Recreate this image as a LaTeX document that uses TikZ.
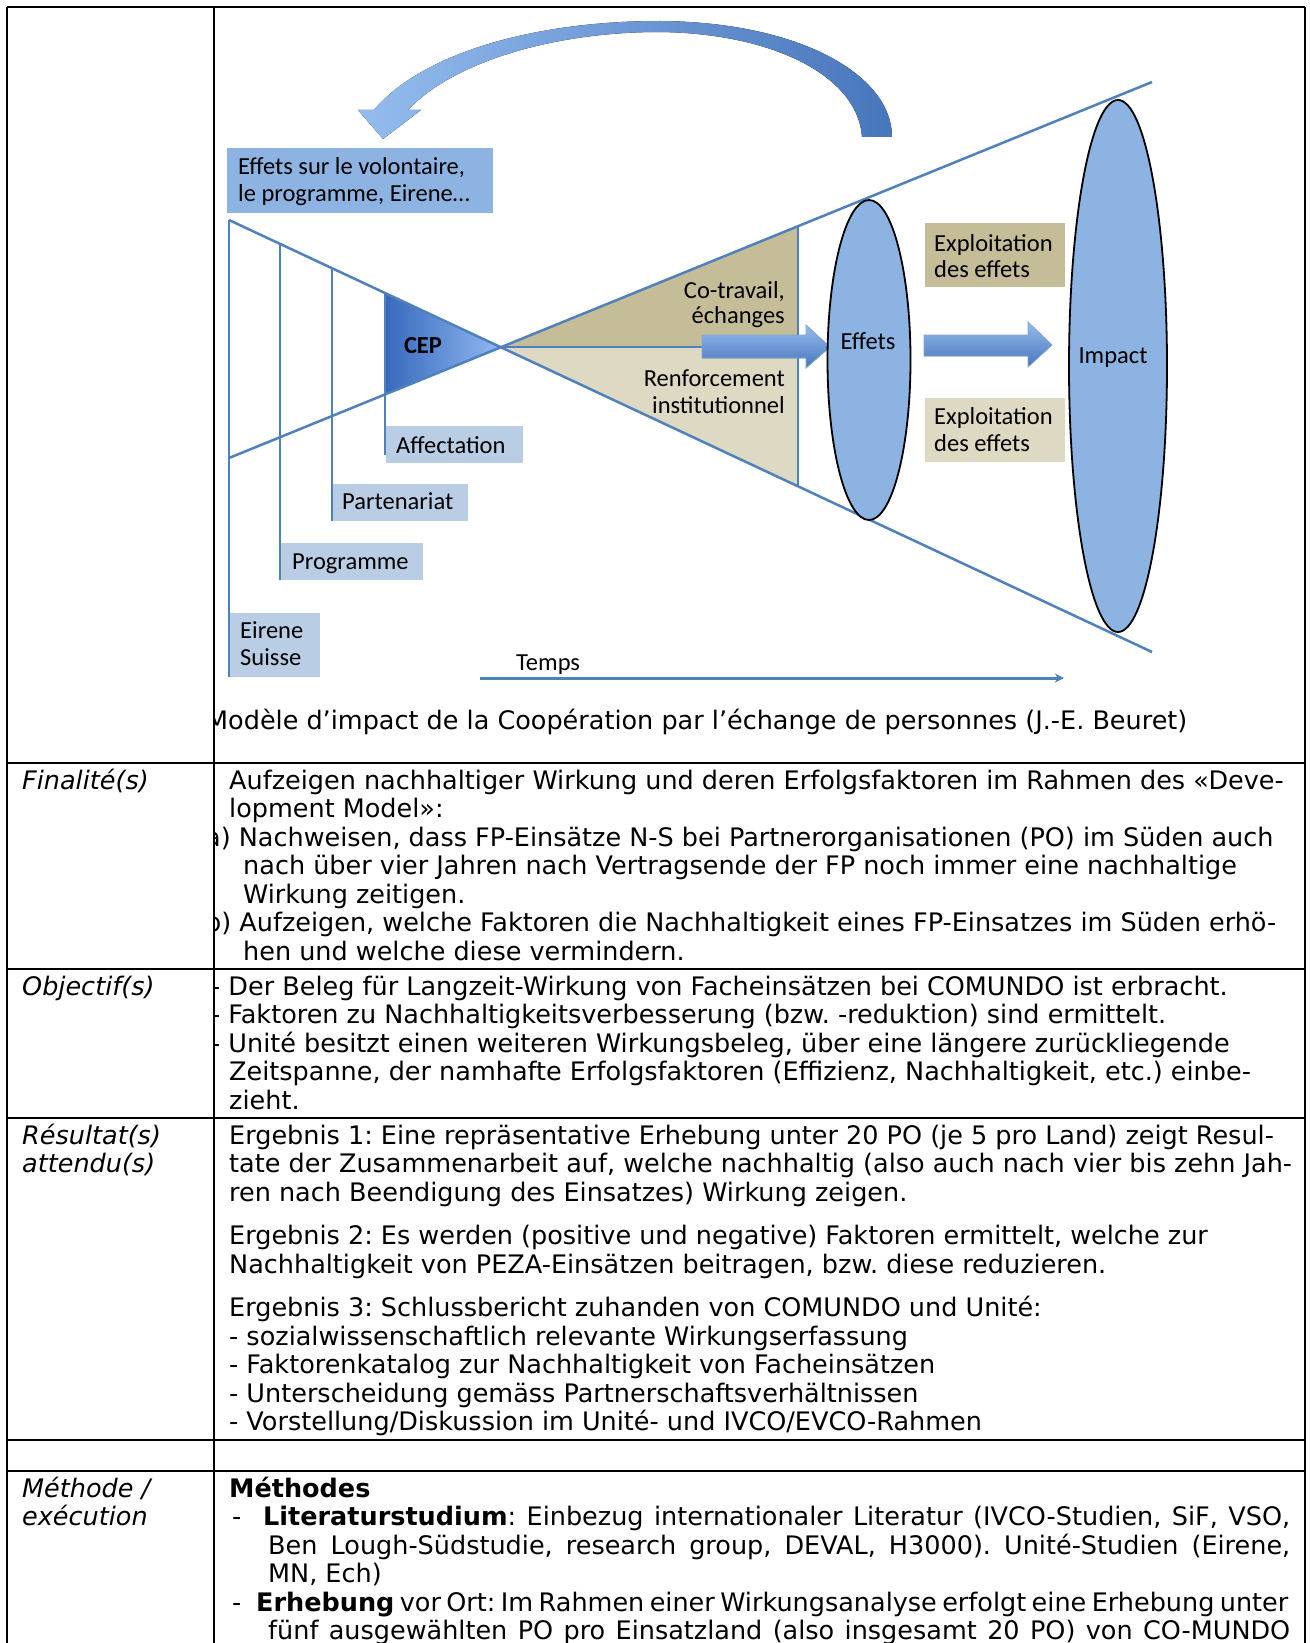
\documentclass[tikz,border=0pt]{standalone}
\usepackage{fontspec}
\setmainfont{DejaVu Sans}[ItalicFont={DejaVu Sans Oblique},BoldFont={DejaVu Sans Bold}]
\newfontfamily\calib{Carlito}
\usepackage{tikz}
\usetikzlibrary{arrows, positioning, shapes.geometric}
\tikzset{>=stealth}
\frenchspacing

\definecolor{lineblue}{RGB}{79,129,189}
\definecolor{fillblue}{RGB}{141,179,226}
\definecolor{paleblue}{RGB}{185,205,229}
\definecolor{tandark}{RGB}{196,189,151}
\definecolor{tanlight}{RGB}{221,217,195}
\definecolor{arrowdark}{RGB}{72,118,188}
\definecolor{arrowlight}{RGB}{148,188,238}
\definecolor{cepdark}{RGB}{55,105,188}
\definecolor{ceplight}{RGB}{145,185,242}

\tikzset{
  bodytxt/.style={anchor=base west, inner sep=0pt, font=\fontsize{25.5}{28.5}\selectfont},
  rowlbl/.style={anchor=base west, inner sep=0pt, font=\fontsize{25.5}{28.5}\selectfont\itshape},
  dtxt/.style={anchor=base west, inner sep=0pt, font=\calib\fontsize{24.5}{27}\selectfont},
  tagbox/.style={fill=paleblue, anchor=north west, inner sep=0pt},
  funnel/.style={draw=lineblue, line width=2.5pt},
  grid/.style={draw=black, line width=2pt},
  blockarrow/.style={top color=arrowlight, bottom color=arrowdark, draw=lineblue!70, line width=0.8pt},
}

\begin{document}
\begin{tikzpicture}[x=1pt, y=-1pt]
\useasboundingbox (0,0) rectangle (1309,1643);
\fill[white] (0,0) rectangle (1309,1643);

% arrow going back to the start
\fill[left color=arrowlight, right color=arrowdark] (892,137) .. controls (892,75) and (800,22) .. (660,21)
  .. controls (530,21) and (420,55) .. (374,110) -- (358,110) -- (383,139) -- (421,110) -- (408,110)
  .. controls (450,65) and (545,33) .. (655,32) .. controls (770,32) and (858,75) .. (862,137) -- cycle;

\node[fill=fillblue, anchor=north west, inner sep=0pt, minimum width=266pt, minimum height=65pt] (fxbox) at (227,148) {};
\node[dtxt] (fx1) at (238,174) {Effets sur le volontaire,};
\node[dtxt] (fx2) at (238,201) {le programme, Eirene…};

% funnel
\coordinate (cross) at (501,347);
\coordinate (tl) at (229,220);
\coordinate (bl) at (229,458);
\coordinate (tr) at (1152,82);
\coordinate (br) at (1152,652);
\coordinate (vt) at (798,226);
\coordinate (vm) at (798,347);
\coordinate (vb) at (798,486);

\fill[tandark] (cross) -- (vt) -- (vm) -- cycle;
\fill[tanlight] (cross) -- (vm) -- (vb) -- cycle;
\shade[left color=cepdark, right color=ceplight] (385,293) -- (cross) -- (385,394) -- cycle;

\node[tagbox, minimum width=137pt, minimum height=37pt] (affbox) at (386,426) {};
\node[tagbox, minimum width=137pt, minimum height=37pt] (partbox) at (331,484) {};
\node[tagbox, minimum width=142pt, minimum height=37pt] (progbox) at (281,543) {};
\node[tagbox, minimum width=91pt, minimum height=64pt] (eirbox) at (229,613) {};

\draw[funnel] (tl) -- (br);
\draw[funnel] (bl) -- (tr);
\draw[funnel] (cross) -- (vm);
\draw[funnel] (vt) -- (vb);
\draw[funnel] (385,293) -- (385,455);
\draw[funnel] (332,268) -- (332,521);
\draw[funnel] (280,244) -- (280,580);
\draw[funnel] (tl) -- (229,677);

\node[dtxt, font=\calib\bfseries\fontsize{24.5}{27}\selectfont, anchor=base] (cep) at (423,353) {CEP};
\node[dtxt, anchor=base east] (cot1) at (785,298) {Co-travail,};
\node[dtxt, anchor=base east] (cot2) at (785,323) {échanges};
\node[dtxt, anchor=base east] (ren1) at (785,386) {Renforcement};
\node[dtxt, anchor=base east] (ren2) at (785,413) {institutionnel};
\node[dtxt] (aff) at (396,453) {Affectation};
\node[dtxt] (part) at (342,509) {Partenariat};
\node[dtxt] (prog) at (292,569) {Programme};
\node[dtxt] (eir1) at (240,638) {Eirene};
\node[dtxt] (eir2) at (240,665) {Suisse};

% effets and impact
\fill[blockarrow] (702,335) -- (806,335) -- (806,325) -- (830,347) -- (806,368) -- (806,358) -- (702,358) -- cycle;
\node[ellipse, draw=black, line width=1.8pt, fill=fillblue, inner sep=0pt, minimum width=83pt, minimum height=320pt] (effets) at (869,360) {};
\node[dtxt, anchor=base] (efftxt) at (868,349) {Effets};
\fill[blockarrow] (924,335) -- (1028,335) -- (1028,322) -- (1052,345) -- (1028,367) -- (1028,356) -- (924,356) -- cycle;
\node[ellipse, draw=black, line width=1.8pt, fill=fillblue, inner sep=0pt, minimum width=98pt, minimum height=532pt] (impact) at (1118,366) {};
\node[dtxt, anchor=base] (imptxt) at (1113,363) {Impact};

\node[fill=tandark, anchor=north west, inner sep=0pt, minimum width=140pt, minimum height=64pt] (explbox1) at (925,223) {};
\node[dtxt] (expl1a) at (934,251) {Exploitation};
\node[dtxt] (expl1b) at (934,277) {des effets};
\node[fill=tanlight, anchor=north west, inner sep=0pt, minimum width=140pt, minimum height=64pt] (explbox2) at (925,398) {};
\node[dtxt] (expl2a) at (934,424) {Exploitation};
\node[dtxt] (expl2b) at (934,451) {des effets};

% time axis
\coordinate (t0) at (480,678);
\coordinate (t1) at (1064,678);
\draw[->, draw=lineblue, line width=3pt] (t0) -- (t1);
\node[dtxt] (temps) at (516,670) {Temps};

% table text, right column
\begin{scope}
\clip (215,0) rectangle (1309,1643);
\node[bodytxt] (cap) at (206,729) {Modèle d’impact de la Coopération par l’échange de personnes (J.-E. Beuret)};

\node[bodytxt] (f1) at (229,789) {Aufzeigen nachhaltiger Wirkung und deren Erfolgsfaktoren im Rahmen des «Deve-};
\node[bodytxt] (f2) at (229,817.5) {lopment Model»:};
\node[bodytxt] (f3) at (205,846) {a) Nachweisen, dass FP-Einsätze N-S bei Partnerorganisationen (PO) im Süden auch};
\node[bodytxt] (f4) at (243,874.5) {nach über vier Jahren nach Vertragsende der FP noch immer eine nachhaltige};
\node[bodytxt] (f5) at (243,903) {Wirkung zeitigen.};
\node[bodytxt] (f6) at (205,931.5) {b) Aufzeigen, welche Faktoren die Nachhaltigkeit eines FP-Einsatzes im Süden erhö-};
\node[bodytxt] (f7) at (243,960) {hen und welche diese vermindern.};

\node[bodytxt] (o1) at (211,995) {- Der Beleg für Langzeit-Wirkung von Facheinsätzen bei COMUNDO ist erbracht.};
\node[bodytxt] (o2) at (211,1023.5) {- Faktoren zu Nachhaltigkeitsverbesserung (bzw. -reduktion) sind ermittelt.};
\node[bodytxt] (o3) at (211,1052) {- Unité besitzt einen weiteren Wirkungsbeleg, über eine längere zurückliegende};
\node[bodytxt] (o4) at (229,1080.5) {Zeitspanne, der namhafte Erfolgsfaktoren (Effizienz, Nachhaltigkeit, etc.) einbe-};
\node[bodytxt] (o5) at (229,1109) {zieht.};

\node[bodytxt] (r1) at (229,1144) {Ergebnis 1: Eine repräsentative Erhebung unter 20 PO (je 5 pro Land) zeigt Resul-};
\node[bodytxt] (r2) at (229,1172.5) {tate der Zusammenarbeit auf, welche nachhaltig (also auch nach vier bis zehn Jah-};
\node[bodytxt] (r3) at (229,1201) {ren nach Beendigung des Einsatzes) Wirkung zeigen.};
\node[bodytxt] (r4) at (229,1244.5) {Ergebnis 2: Es werden (positive und negative) Faktoren ermittelt, welche zur};
\node[bodytxt] (r5) at (229,1273) {Nachhaltigkeit von PEZA-Einsätzen beitragen, bzw. diese reduzieren.};
\node[bodytxt] (r6) at (229,1316.5) {Ergebnis 3: Schlussbericht zuhanden von COMUNDO und Unité:};
\node[bodytxt] (r7) at (229,1345) {- sozialwissenschaftlich relevante Wirkungserfassung};
\node[bodytxt] (r8) at (229,1373.5) {- Faktorenkatalog zur Nachhaltigkeit von Facheinsätzen};
\node[bodytxt] (r9) at (229,1402) {- Unterscheidung gemäss Partnerschaftsverhältnissen};
\node[bodytxt] (r10) at (229,1430.5) {- Vorstellung/Diskussion im Unité- und IVCO/EVCO-Rahmen};

\node[bodytxt, font=\fontsize{25.5}{28.5}\selectfont\bfseries] (m1) at (229,1497) {Méthodes};
\node[bodytxt] (m2d) at (232,1525.5) {-};
\node[bodytxt] (m2) at (263,1525.5) {\makebox[1027pt][s]{\textbf{Literaturstudium}: Einbezug internationaler Literatur (IVCO-Studien, SiF, VSO,}};
\node[bodytxt] (m3) at (268,1554) {\makebox[1022pt][s]{Ben Lough-Südstudie, research group, DEVAL, H3000). Unité-Studien (Eirene,}};
\node[bodytxt] (m4) at (268,1582.5) {MN, Ech)};
\node[bodytxt] (m5d) at (232,1611) {-};
\node[bodytxt] (m5) at (256,1611) {\makebox[1031pt][s]{\textbf{Erhebung} vor Ort: Im Rahmen einer Wirkungsanalyse erfolgt eine Erhebung unter}};
\node[bodytxt] (m6) at (268,1639.5) {\makebox[1022pt][s]{fünf ausgewählten PO pro Einsatzland (also insgesamt 20 PO) von CO-MUNDO}};
\end{scope}

% table text, left column
\node[rowlbl] (lfin) at (22,789) {Finalité(s)};
\node[rowlbl] (lobj) at (22,995) {Objectif(s)};
\node[rowlbl] (lres1) at (22,1144) {Résultat(s)};
\node[rowlbl] (lres2) at (22,1172.5) {attendu(s)};
\node[rowlbl] (lmet1) at (22,1497) {Méthode /};
\node[rowlbl] (lmet2) at (22,1525.5) {exécution};

% table rules
\foreach \yy in {7,763,969,1118,1440,1471}
  \draw[grid] (7,\yy) -- (1305,\yy);
\foreach \xx in {7,214,1305}
  \draw[grid] (\xx,7) -- (\xx,1643);

\end{tikzpicture}
\end{document}
